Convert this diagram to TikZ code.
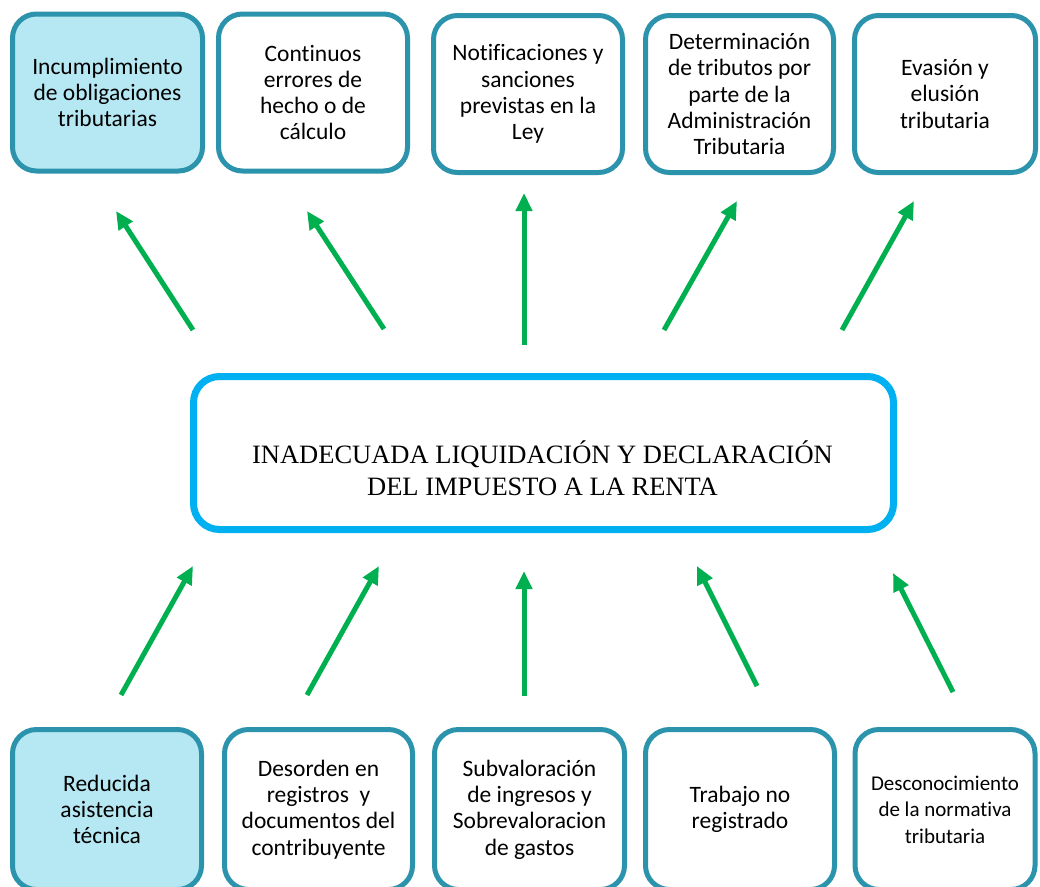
\documentclass[tikz,border=0pt]{standalone}
\usepackage{fontspec}
\setmainfont[Ligatures={NoCommon}]{Carlito}
\newfontfamily\serifface{Liberation Serif}
\usetikzlibrary{arrows.meta}
\definecolor{boxline}{RGB}{44,147,172}
\definecolor{boxfill}{RGB}{182,232,243}
\definecolor{mainline}{RGB}{0,176,240}
\definecolor{arrowgreen}{RGB}{0,176,80}
\tikzset{
  causebox/.style={draw=boxline, line width=5pt, rounded corners=24pt,
    inner sep=0pt, align=center, minimum height=157pt,
    font=\fontsize{23.5}{26.3}\selectfont},
  hlbox/.style={causebox, fill=boxfill},
  lowbox/.style={minimum height=160pt},
  mainbox/.style={draw=mainline, line width=7pt, rounded corners=26pt,
    inner sep=0pt, minimum width=700pt, minimum height=153pt},
  maintext/.style={align=center, inner sep=0pt,
    font=\serifface\fontsize{26.5}{31.5}\selectfont},
  greenarrow/.style={draw=arrowgreen, line width=5pt,
    -{Triangle[length=18pt,width=16pt]}}
}
\begin{document}
\begin{tikzpicture}[x=1pt,y=-1pt]
\useasboundingbox[fill=white] (0,0) rectangle (1040,886);

% effects (top row)
\node[hlbox, minimum width=190pt] (t1) at (107.5,92.5) {Incumplimiento\\de obligaciones\\tributarias};
\node[causebox, minimum width=189pt] (t2) at (313,92.5) {Continuos\\errores de\\hecho o de\\cálculo};
\node[causebox, minimum width=189pt] (t3) at (528,94) {Notificaciones y\\sanciones\\previstas en la\\Ley};
\node[causebox, minimum width=188pt] (t4) at (739.5,94) {Determinación\\de tributos por\\parte de la\\Administración\\Tributaria};
\node[causebox, minimum width=181pt] (t5) at (945,94) {Evasión y\\elusión\\tributaria};

% central problem
\node[mainbox] (c) at (543.5,453) {};
\node[maintext] (ctext) at (542.5,468) {INADECUADA LIQUIDACIÓN Y DECLARACIÓN\\DEL IMPUESTO A LA RENTA};

% causes (bottom row)
\node[hlbox, lowbox, minimum width=189pt] (b1) at (107,809.5) {Reducida\\asistencia\\técnica};
\node[causebox, lowbox, minimum width=188pt] (b2) at (318.5,809.5) {Desorden en\\registros~ y\\documentos del\\contribuyente};
\node[causebox, lowbox, minimum width=190pt] (b3) at (529.5,809.5) {Subvaloración\\de ingresos y\\Sobrevaloracion\\de gastos};
\node[causebox, lowbox, minimum width=189pt] (b4) at (740,809.5) {Trabajo no\\registrado};
\node[causebox, lowbox, minimum width=180pt,
  font=\fontsize{21}{26.5}\selectfont] (b5) at (945,809.5) {Desconocimiento\\de la normativa\\tributaria};

% arrow end points
\coordinate (u1a) at (193,330); \coordinate (u1b) at (116,211);
\coordinate (u2a) at (384,329); \coordinate (u2b) at (307,211);
\coordinate (u3a) at (524,345); \coordinate (u3b) at (524,193);
\coordinate (u4a) at (664,330); \coordinate (u4b) at (737,201);
\coordinate (u5a) at (842,330); \coordinate (u5b) at (914,201);
\coordinate (d1a) at (121,695); \coordinate (d1b) at (193,566);
\coordinate (d2a) at (307,695); \coordinate (d2b) at (379,566);
\coordinate (d3a) at (524,696); \coordinate (d3b) at (524,571);
\coordinate (d4a) at (757,686); \coordinate (d4b) at (697,566);
\coordinate (d5a) at (953,692); \coordinate (d5b) at (893,573);

% arrows
\foreach \n in {u1,u2,u3,u4,u5,d1,d2,d3,d4,d5}
  \draw[greenarrow] (\n a) -- (\n b);
\end{tikzpicture}
\end{document}
